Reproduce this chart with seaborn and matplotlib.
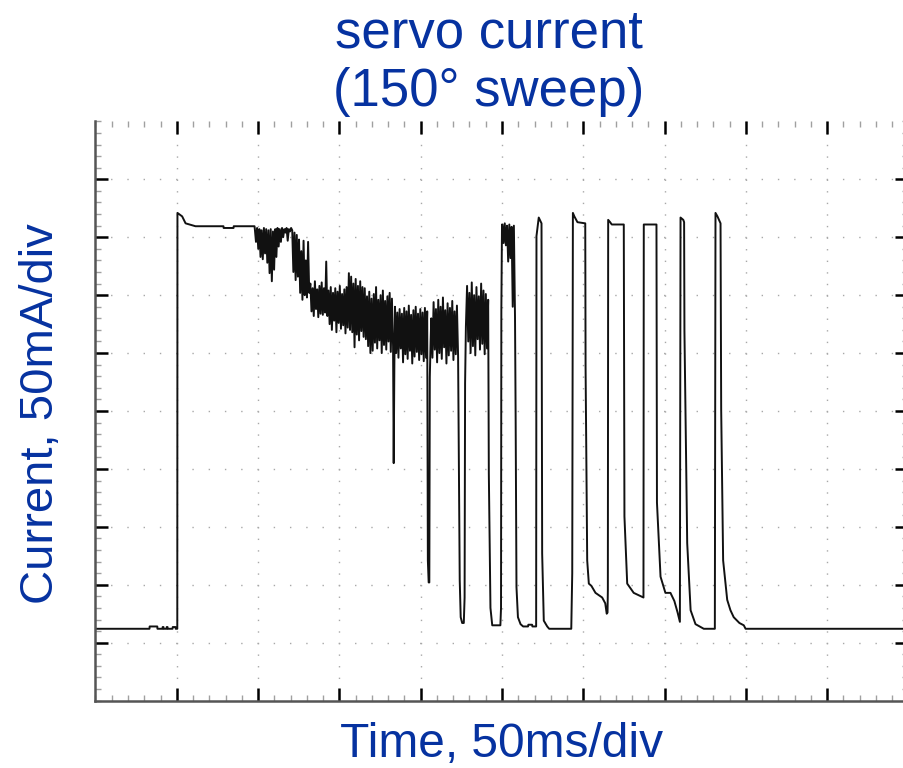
import numpy as np
import pandas as pd
import matplotlib.pyplot as plt
import seaborn as sns
from matplotlib.ticker import MultipleLocator

# Scope trace: time in ms (50 ms/div), current in mA (50 mA/div)

# idle level, trigger step and the first flat top
pre_t = [0, 33.2, 33.3, 38.0, 38.1, 41.2, 41.3, 41.8, 41.9, 43.7, 43.8, 44.3, 44.4,
         47.4, 47.5, 49.2, 49.3, 50.3, 50.4, 53.3, 55.4, 61.5, 78.7, 78.8, 84.9, 85.0, 97.8]
pre_i = [62, 62, 64, 64, 62, 62, 63.5, 63.5, 62, 62, 63.5, 63.5, 62,
         62, 63.5, 63.5, 62, 62, 421, 418, 412, 409.5, 409.5, 408, 408, 409.5, 409.5]

# noisy stretch while the servo is moving (sampled evenly over its span)
burst_a = [407, 396, 408, 390, 407, 383, 406, 381, 408, 386, 407, 378, 406, 369, 407, 362,
           405, 372, 407, 383, 408, 392, 407, 396, 408, 400, 407, 404, 408, 397, 407, 405, 408,
           406, 370, 404, 363, 402, 366,
           398, 352, 388, 346, 397, 350, 380, 348, 396, 352,
           360, 336, 356, 332, 362, 338, 355, 331, 358, 334, 361, 333, 356, 335, 379, 332,
           354, 325, 357, 320, 352, 328, 356, 318, 353, 326, 358, 321, 351, 324, 355, 317,
           357, 322, 369, 320,
           366, 318, 360, 305, 364, 316, 358, 311, 362, 319, 357, 314,
           356, 312, 349, 306, 353, 300, 347, 302, 351, 309, 357, 304, 346, 311, 350, 300,
           354, 307, 345, 303, 349, 310, 352, 301, 347, 306]
dip_a_t = [183.4, 183.8]
dip_a_i = [205, 290]

burst_b = [340, 300, 335, 296, 338, 304, 334, 292, 339, 299, 336, 295, 341, 302, 333,
           291, 337, 297, 340, 301, 334, 294, 338, 299, 335, 293, 339, 296, 336]
dip_b_t = [204.4, 204.9, 205.3, 205.6, 206.1]
dip_b_i = [121, 102, 102, 279, 310]

burst_c = [330, 296, 344, 303, 338, 292, 346, 300, 340, 295, 348, 305, 337, 291, 343,
           298, 339, 302, 345, 294, 336, 299, 341, 297]
dip_c_t = [224.0, 224.6, 225.5, 226.5, 227.0, 227.3]
dip_c_i = [104, 72, 67, 67, 89, 274]

burst_d = [323, 358, 310, 352, 300, 361, 306, 350, 298, 357, 312, 349, 303, 360, 308,
           354, 299, 351, 304, 346]
gap_d_t = [241.9, 242.9, 244.0, 249.0, 249.4, 249.6, 250.0]
gap_d_i = [196, 80, 65, 65, 80, 337, 411]

burst_e = [411, 395, 412, 393, 410, 379, 411, 382, 409, 340, 410, 331]

# the six clean pulses and the tail
post_t = [258.4, 258.9, 259.8, 261.4, 263.0, 266.0, 266.2, 268.5, 268.7, 271.0,
          271.2, 272.6, 274.3, 274.7, 275.7, 277.8, 279.0, 292.6,
          293.2, 293.6, 294.5, 296.4, 301.2, 301.4, 302.4, 303.4, 305.0, 307.5, 311.6, 313.5, 314.4, 314.9,
          315.1, 315.3, 316.5, 317.5, 324.9, 325.3, 327.0, 331.0, 334.0, 337.0,
          337.2, 345.0, 345.3, 347.5, 350.5, 353.6, 356.0, 358.0, 359.4,
          359.8, 361.5, 362.0, 362.2, 363.9, 366.0, 369.0, 374.1, 380.9,
          381.3, 382.5, 384.4, 384.8, 386.0, 388.5, 390.5, 392.5, 396.0, 398.7, 399.8, 500.0]
post_i = [242, 98, 72, 66, 64, 64, 65.5, 65.5, 64, 64,
          401, 417, 412, 127, 69, 64, 62, 62,
          110, 421, 418, 413, 412, 288, 121, 101, 99, 93, 89, 84, 75, 76,
          95, 415, 413, 411, 411, 159, 101, 93, 91, 89,
          411, 411, 171, 107, 93, 93, 86, 76, 68,
          417, 415, 413, 319, 136, 78, 66, 62, 62,
          421, 418, 412, 251, 121, 87, 78, 72, 67, 65, 62, 62]


def burst(t0, t1, values):
    # scope samples are evenly spaced over the noisy stretch
    return list(np.linspace(t0, t1, len(values))), list(values)


pieces = [
    (pre_t, pre_i),
    burst(98.0, 183.0, burst_a),
    (dip_a_t, dip_a_i),
    burst(184.2, 204.0, burst_b),
    (dip_b_t, dip_b_i),
    burst(206.5, 223.0, burst_c),
    (dip_c_t, dip_c_i),
    burst(227.8, 241.5, burst_d),
    (gap_d_t, gap_d_i),
    burst(250.3, 258.0, burst_e),
    (post_t, post_i),
]
df = pd.DataFrame({
    'time_ms': np.concatenate([p[0] for p in pieces]),
    'current_mA': np.concatenate([p[1] for p in pieces]),
})

blue = '#0632a0'

sns.set_theme(style="white")
plt.rcParams['font.family'] = ['Liberation Sans', 'DejaVu Sans']

fig = plt.figure(figsize=(9.04, 7.68), dpi=100)
ax = fig.add_axes([95.5 / 904, 67.4 / 768, 813 / 904, 579.2 / 768])

sns.lineplot(data=df, x='time_ms', y='current_mA', sort=False, estimator=None,
             color='#111111', linewidth=1.4, ax=ax)

ax.set_xlim(0, 500)
ax.set_ylim(0, 500)

# scope graticule: majors every division, 5 minors per division
ax.set_xticks(np.arange(50, 500, 50))
ax.set_yticks(np.arange(50, 500, 50))
ax.xaxis.set_minor_locator(MultipleLocator(10))
ax.yaxis.set_minor_locator(MultipleLocator(10))
ax.grid(False)
ax.xaxis.grid(True, which='major', color='#a8a8a8', linewidth=1.0,
              linestyle=(0.5, (1.0, 7.34)))
ax.yaxis.grid(True, which='major', color='#a8a8a8', linewidth=1.0,
              linestyle=(0.5, (1.0, 10.71)))

ax.tick_params(which='major', direction='in', length=9.4, width=1.8, color='black',
               top=True, right=True, bottom=True, left=True,
               labelbottom=False, labelleft=False)
ax.tick_params(which='minor', direction='in', length=4, width=1.0, color='#a0a0a0',
               top=True, right=True, bottom=True, left=True)

for side in ['top', 'right']:
    ax.spines[side].set_visible(False)
for side in ['left', 'bottom']:
    ax.spines[side].set_color('#555555')
    ax.spines[side].set_linewidth(1.8)

ax.set_title('servo current\n(150° sweep)', fontsize=38, color=blue,
             x=0.484, y=1.0266, pad=0, linespacing=1.23)
ax.set_xlabel('Time, 50ms/div', fontsize=34.5, color=blue)
ax.xaxis.set_label_coords(0.5, -0.037)
ax.set_ylabel('Current, 50mA/div', fontsize=34, color=blue)
ax.yaxis.set_label_coords(-0.0396, 0.496)

fig.savefig('out.png', dpi=100)
